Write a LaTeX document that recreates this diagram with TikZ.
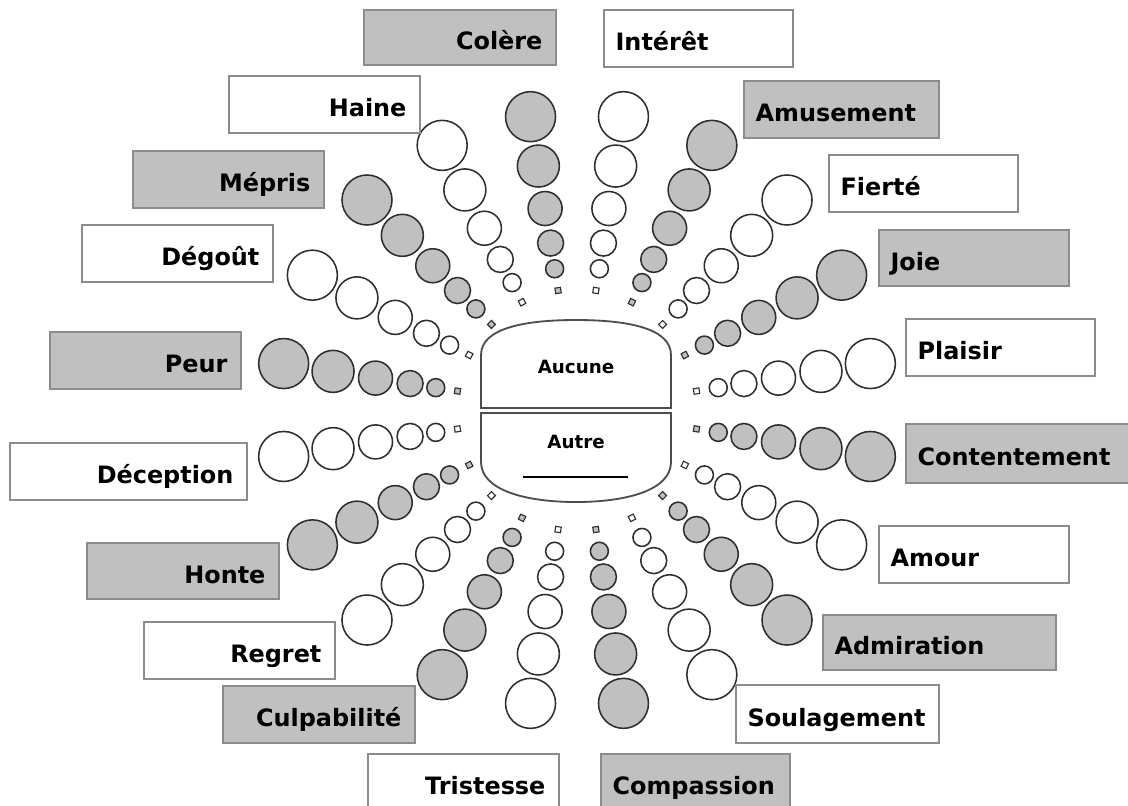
\documentclass[tikz,border=0pt]{standalone}
\usepackage{fontspec}
\setmainfont{DejaVu Sans}
\usetikzlibrary{calc,fit}
\definecolor{shade}{HTML}{C0C0C0}
\definecolor{frame}{HTML}{8C8C8C}
\definecolor{ink}{HTML}{2E2E2E}
\tikzset{
  gbox/.style={draw=frame,fill=shade,line width=1pt,inner sep=0pt},
  wbox/.style={draw=frame,fill=white,line width=1pt,inner sep=0pt},
  lblL/.style={font=\bfseries\fontsize{17}{20}\selectfont,anchor=base east,inner sep=0pt},
  lblR/.style={font=\bfseries\fontsize{17}{20}\selectfont,anchor=base west,inner sep=0pt},
  midtext/.style={font=\bfseries\fontsize{13}{15}\selectfont,inner sep=0pt},
  shell/.style={draw=ink!85,line width=1.3pt,fill=white},
  dot/.style={circle,draw=ink,line width=1.1pt,inner sep=0pt},
  gdot/.style={dot,fill=shade},
  wdot/.style={dot,fill=white},
  tip/.style={rectangle,draw=ink,line width=0.8pt,inner sep=0pt,minimum size=0.14cm}
}

\begin{document}
\begin{tikzpicture}[x=0.025cm,y=-0.025cm]
\path[use as bounding box] (0,0) rectangle (1128,805);
\coordinate (ctr) at (577,410);
% spokes: small tip square then five circles growing outwards
\foreach \k in {0,...,19}{
  \pgfmathsetmacro{\ang}{18*\k-99}
  \pgfmathsetmacro{\rot}{99-18*\k}
  \ifodd\k \def\look{wdot}\else \def\look{gdot}\fi
  \node[\look,tip,rotate=\rot] (q\k) at ($(ctr)+(\ang:121)$) {};
  \foreach \r/\d [count=\j] in {143/0.45cm,169/0.65cm,204/0.85cm,247/1.05cm,297/1.25cm}
    \node[\look,minimum size=\d] (c\k-\j) at ($(ctr)+(\ang:\r)$) {};
}
% centre
\draw[shell] (481,408) -- (481,355) .. controls (481,328) and (525,320) .. (576,320) .. controls (627,320) and (671,328) .. (671,355) -- (671,408) -- cycle;
\draw[shell] (481,413) -- (481,462) .. controls (481,490) and (525,502) .. (576,502) .. controls (627,502) and (671,490) .. (671,462) -- (671,413) -- cycle;
\node[midtext] (aucune) at (576,367) {Aucune};
\node[midtext] (autre) at (576,442) {Autre};
\draw[line width=1.2pt] (523,477) -- (628,477);
% left labels
\node[gbox,fit={(364,10) (556,65)}] (colere) {};
\node[lblL] (t-colere) at ([xshift=-0.35cm,yshift=-0.3cm]colere.east) {Colère};
\node[wbox,fit={(229,76) (420,133)}] (haine) {};
\node[lblL] (t-haine) at ([xshift=-0.35cm,yshift=-0.3cm]haine.east) {Haine};
\node[gbox,fit={(133,151) (324,208)}] (mepris) {};
\node[lblL] (t-mepris) at ([xshift=-0.35cm,yshift=-0.3cm]mepris.east) {Mépris};
\node[wbox,fit={(82,225) (273,282)}] (degout) {};
\node[lblL] (t-degout) at ([xshift=-0.35cm,yshift=-0.3cm]degout.east) {Dégoût};
\node[gbox,fit={(50,332) (241,389)}] (peur) {};
\node[lblL] (t-peur) at ([xshift=-0.35cm,yshift=-0.3cm]peur.east) {Peur};
\node[wbox,fit={(10,443) (247,500)}] (deception) {};
\node[lblL] (t-deception) at ([xshift=-0.35cm,yshift=-0.3cm]deception.east) {Déception};
\node[gbox,fit={(87,543) (279,599)}] (honte) {};
\node[lblL] (t-honte) at ([xshift=-0.35cm,yshift=-0.3cm]honte.east) {Honte};
\node[wbox,fit={(144,622) (335,679)}] (regret) {};
\node[lblL] (t-regret) at ([xshift=-0.35cm,yshift=-0.3cm]regret.east) {Regret};
\node[gbox,fit={(223,686) (415,743)}] (culpabilite) {};
\node[lblL] (t-culpabilite) at ([xshift=-0.35cm,yshift=-0.3cm]culpabilite.east) {Culpabilité};
\node[wbox,fit={(368,754) (559,811)}] (tristesse) {};
\node[lblL] (t-tristesse) at ([xshift=-0.35cm,yshift=-0.3cm]tristesse.east) {Tristesse};
% right labels
\node[wbox,fit={(604,10) (793,67)}] (interet) {};
\node[lblR] (t-interet) at ([xshift=0.3cm,yshift=-0.3cm]interet.west) {Intérêt};
\node[gbox,fit={(744,81) (939,138)}] (amusement) {};
\node[lblR] (t-amusement) at ([xshift=0.3cm,yshift=-0.3cm]amusement.west) {Amusement};
\node[wbox,fit={(829,155) (1018,212)}] (fierte) {};
\node[lblR] (t-fierte) at ([xshift=0.3cm,yshift=-0.3cm]fierte.west) {Fierté};
\node[gbox,fit={(879,230) (1069,286)}] (joie) {};
\node[lblR] (t-joie) at ([xshift=0.3cm,yshift=-0.3cm]joie.west) {Joie};
\node[wbox,fit={(906,319) (1095,376)}] (plaisir) {};
\node[lblR] (t-plaisir) at ([xshift=0.3cm,yshift=-0.3cm]plaisir.west) {Plaisir};
\node[gbox,fit={(906,424) (1140,483)}] (contentement) {};
\node[lblR] (t-contentement) at ([xshift=0.3cm,yshift=-0.3cm]contentement.west) {Contentement};
\node[wbox,fit={(879,526) (1069,583)}] (amour) {};
\node[lblR] (t-amour) at ([xshift=0.3cm,yshift=-0.3cm]amour.west) {Amour};
\node[gbox,fit={(823,615) (1056,670)}] (admiration) {};
\node[lblR] (t-admiration) at ([xshift=0.3cm,yshift=-0.3cm]admiration.west) {Admiration};
\node[wbox,fit={(736,685) (939,743)}] (soulagement) {};
\node[lblR] (t-soulagement) at ([xshift=0.3cm,yshift=-0.3cm]soulagement.west) {Soulagement};
\node[gbox,fit={(601,754) (790,811)}] (compassion) {};
\node[lblR] (t-compassion) at ([xshift=0.3cm,yshift=-0.3cm]compassion.west) {Compassion};
\end{tikzpicture}
\end{document}
